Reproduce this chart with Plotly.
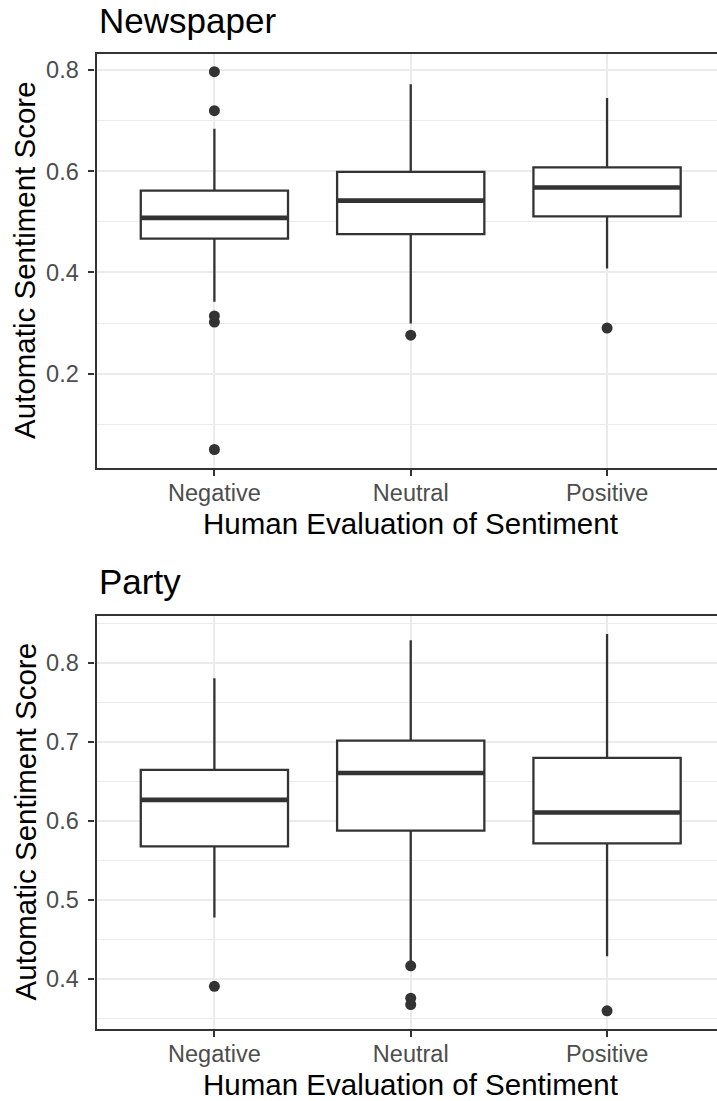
import plotly.graph_objects as go

# ---------------- data ----------------
categories = ["Negative", "Neutral", "Positive"]

news_q1 = [0.467, 0.476, 0.511]
news_median = [0.508, 0.542, 0.568]
news_q3 = [0.562, 0.599, 0.608]
news_lower = [0.342, 0.299, 0.408]
news_upper = [0.684, 0.772, 0.745]
news_out_cat = ["Negative", "Negative", "Negative", "Negative", "Negative", "Neutral", "Positive"]
news_out_val = [0.797, 0.720, 0.314, 0.302, 0.050, 0.276, 0.290]

party_q1 = [0.568, 0.588, 0.572]
party_median = [0.627, 0.661, 0.611]
party_q3 = [0.665, 0.702, 0.680]
party_lower = [0.478, 0.423, 0.429]
party_upper = [0.781, 0.829, 0.837]
party_out_cat = ["Negative", "Neutral", "Neutral", "Neutral", "Positive"]
party_out_val = [0.391, 0.417, 0.376, 0.368, 0.360]

panel_titles = ["Newspaper", "Party"]
x_title = "Human Evaluation of Sentiment"
y_title = "Automatic Sentiment Score"

# ---------------- style ----------------
W, H = 717, 1101
DARK = "#333333"
GRID = "#EBEBEB"
TICKTXT = "#4D4D4D"
FONT = "Liberation Sans, Arial, Helvetica, sans-serif"
LW = 2.3

fig = go.Figure()


def add_panel(q1, med, q3, lo, hi, ocat, oval, xa, ya):
    fig.add_trace(go.Box(
        x=categories, q1=q1, median=med, q3=q3, lowerfence=lo, upperfence=hi,
        boxpoints=False, fillcolor="white", line=dict(color=DARK, width=LW),
        whiskerwidth=0, xaxis=xa, yaxis=ya, showlegend=False, hoverinfo="skip"))
    # thicker median line (ggplot fatten)
    fig.add_trace(go.Box(
        x=categories, q1=med, median=med, q3=med, lowerfence=med, upperfence=med,
        boxpoints=False, fillcolor="rgba(0,0,0,0)", line=dict(color=DARK, width=2 * LW),
        whiskerwidth=0, xaxis=xa, yaxis=ya, showlegend=False, hoverinfo="skip"))
    fig.add_trace(go.Scatter(
        x=ocat, y=oval, mode="markers", marker=dict(color=DARK, size=11),
        xaxis=xa, yaxis=ya, showlegend=False, hoverinfo="skip"))


add_panel(news_q1, news_median, news_q3, news_lower, news_upper,
          news_out_cat, news_out_val, "x", "y")
add_panel(party_q1, party_median, party_q3, party_lower, party_upper,
          party_out_cat, party_out_val, "x2", "y2")

x_dom = [96.6 / W, 1.0]
top_dom = [1 - 467.7 / H, 1 - 54 / H]
bot_dom = [1 - 1029 / H, 1 - 615.7 / H]

xcommon = dict(
    type="category", categoryorder="array", categoryarray=categories,
    range=[-0.6, 2.56], domain=x_dom,
    showgrid=True, gridcolor=GRID, gridwidth=2.2,
    showline=True, mirror=True, linecolor=DARK, linewidth=LW,
    ticks="outside", ticklen=6, tickcolor=DARK, tickwidth=2.2,
    tickfont=dict(family=FONT, size=23.5, color=TICKTXT),
    ticklabelstandoff=-3, zeroline=False, fixedrange=True)

ycommon = dict(
    showgrid=True, gridcolor=GRID, gridwidth=2.2,
    showline=True, mirror=False, linecolor=DARK, linewidth=LW,
    ticks="outside", ticklen=6, tickcolor=DARK, tickwidth=2.2,
    tickfont=dict(family=FONT, size=23.5, color=TICKTXT),
    ticklabelstandoff=5, zeroline=False, tickformat=".1f", tick0=0, fixedrange=True)

fig.update_layout(
    width=W, height=H, margin=dict(l=0, r=0, t=0, b=0),
    paper_bgcolor="white", plot_bgcolor="white",
    boxmode="overlay", boxgap=0.25, boxgroupgap=0,
    font=dict(family=FONT, color="black"),
    xaxis=dict(xcommon, anchor="y"),
    yaxis=dict(ycommon, anchor="x", domain=top_dom, range=[0.014, 0.832], dtick=0.2,
               minor=dict(dtick=0.1, tick0=0, showgrid=True, gridcolor=GRID, gridwidth=1.1, ticks="")),
    xaxis2=dict(xcommon, anchor="y2"),
    yaxis2=dict(ycommon, anchor="x2", domain=bot_dom, range=[0.337, 0.860], dtick=0.1,
                minor=dict(dtick=0.05, tick0=0, showgrid=True, gridcolor=GRID, gridwidth=1.1, ticks="")),
)

ann = []
# panel titles
ann.append(dict(text=panel_titles[0], x=96.6 / W, y=1 - 20.5 / H, xanchor="left", yanchor="middle"))
ann.append(dict(text=panel_titles[1], x=96.6 / W, y=1 - 581 / H, xanchor="left", yanchor="middle"))
for a in ann:
    a.update(xref="paper", yref="paper", showarrow=False, font=dict(family=FONT, size=35, color="black"))
axt = [
    dict(text=x_title, x=410.6 / W, y=1 - 523 / H, xanchor="center", yanchor="middle"),
    dict(text=x_title, x=410.6 / W, y=1 - 1084 / H, xanchor="center", yanchor="middle"),
    dict(text=y_title, x=25 / W, y=1 - 260.9 / H, xanchor="center", yanchor="middle", textangle=-90),
    dict(text=y_title, x=25 / W, y=1 - 822.4 / H, xanchor="center", yanchor="middle", textangle=-90),
]
for a in axt:
    a.update(xref="paper", yref="paper", showarrow=False, font=dict(family=FONT, size=29.5, color="black"))
fig.update_layout(annotations=ann + axt)

fig.write_html("out.html")
